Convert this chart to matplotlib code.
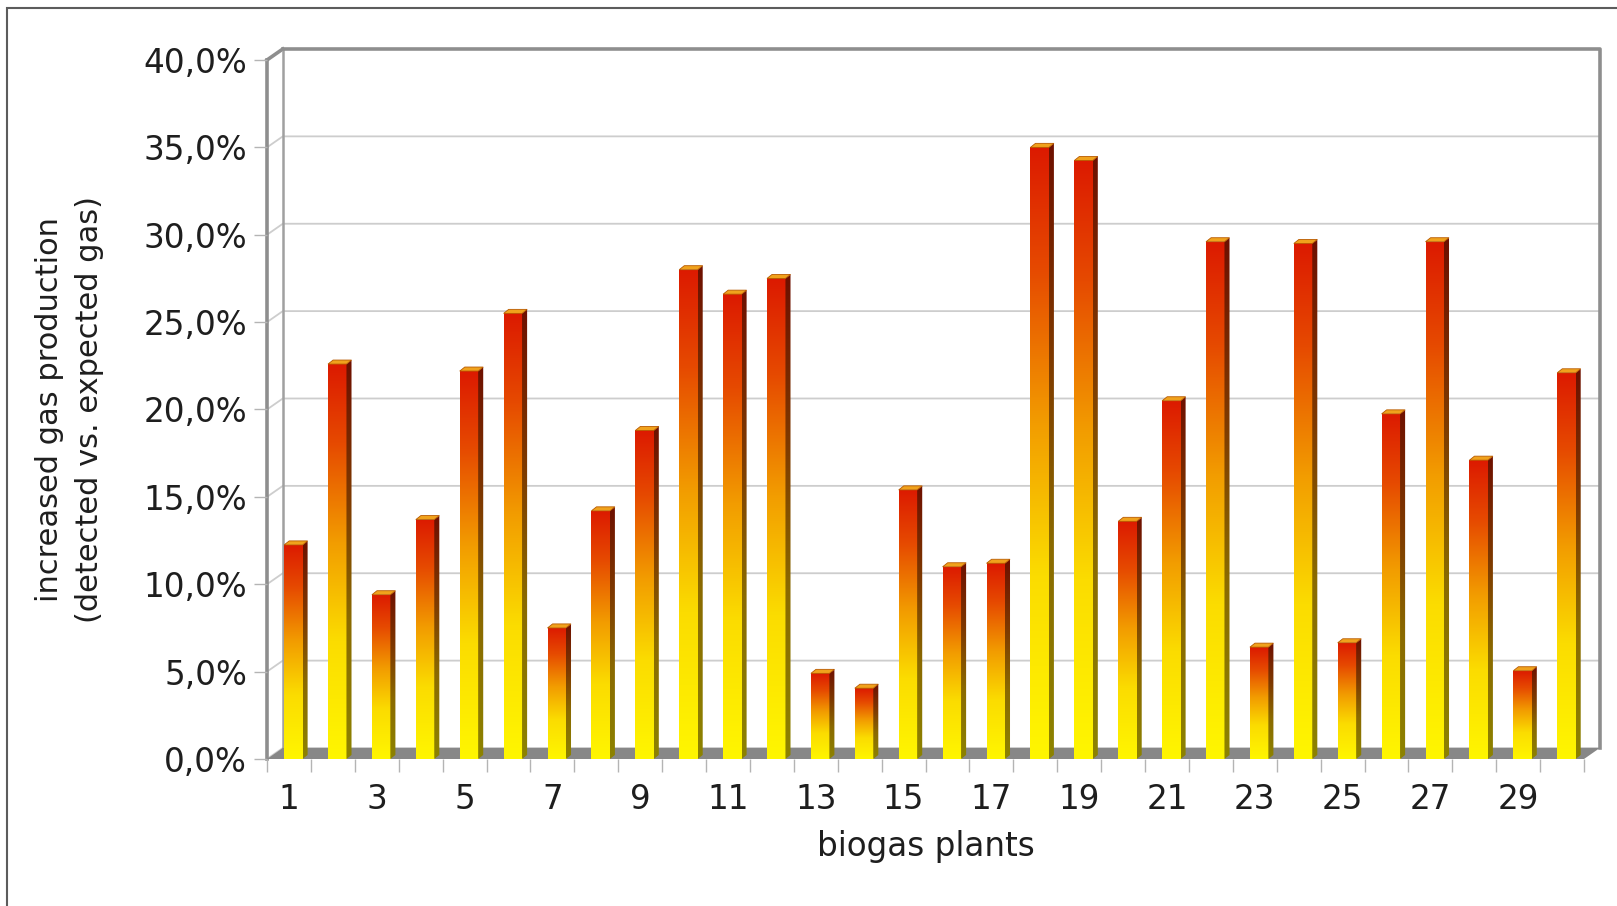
import numpy as np
import matplotlib
matplotlib.use("Agg")
import matplotlib.pyplot as plt
from matplotlib.colors import LinearSegmentedColormap
from matplotlib.patches import Polygon, Rectangle
from matplotlib.ticker import FuncFormatter

# data
plants = np.arange(1, 31)
increase = [12.25, 22.6, 9.4, 13.7, 22.2, 25.5, 7.5, 14.2, 18.8, 28.0,
            26.6, 27.5, 4.9, 4.05, 15.4, 11.0, 11.2, 35.0, 34.25, 13.6,
            20.5, 29.6, 6.4, 29.5, 6.65, 19.75, 29.6, 17.1, 5.05, 22.1]
y_ticks = [0, 5, 10, 15, 20, 25, 30, 35, 40]
x_label_plants = [p for p in plants if p % 2 == 1]

W, H, DPI = 1617, 906, 100
DX, DY = 0.36, 0.63          # depth of the back wall (data units)
BAR_OFF, BAR_W = 0.39, 0.42  # front face of a bar inside its slot
SIDE_DX, SIDE_DY = 0.115, 0.23
TXT = "#1e1e1e"
FS = 23.5

face_cmap = LinearSegmentedColormap.from_list(
    "face", [(0, "#fff600"), (0.3, "#fbdc00"), (0.55, "#f29c00"),
             (0.8, "#e64a00"), (1, "#dc1a00")])
side_cmap = LinearSegmentedColormap.from_list(
    "side", [(0, "#8d8300"), (0.35, "#8a6a00"), (0.65, "#7e3a00"),
             (1, "#6e1000")])

fig = plt.figure(figsize=(W / DPI, H / DPI), dpi=DPI)
ax = fig.add_axes([267 / W, 147 / H, 1317 / W, 699 / H])
for s in ax.spines.values():
    s.set_visible(False)
ax.patch.set_visible(False)

n = len(plants)
top = y_ticks[-1]

# walls and grid
for t in y_ticks[:-1]:
    ax.plot([0, DX, n + DX], [t, t + DY, t + DY], color="#cdcdcd", lw=1.3,
            zorder=1, clip_on=False)
wall = dict(color="#8e8e8e", lw=2.6, zorder=1, clip_on=False,
            solid_capstyle="projecting")
ax.plot([0, 0], [0, top], **wall)
ax.plot([0, DX], [top, top + DY], **wall)
ax.plot([DX, DX], [DY, top + DY], color="#a0a0a0", lw=1.8, zorder=1, clip_on=False)
ax.plot([DX, n + DX, n + DX], [top + DY, top + DY, DY], **wall)
ax.add_patch(Polygon([(0, 0), (n, 0), (n + DX, DY), (DX, DY)],
                     closed=True, fc="#878787", ec="none", zorder=2,
                     clip_on=False))

# bars with a vertical gradient
grad = np.linspace(0, 1, 256).reshape(-1, 1)
for i, v in enumerate(increase):
    x0 = i + BAR_OFF
    x1 = x0 + BAR_W
    im = ax.imshow(grad, cmap=face_cmap, extent=[x0, x1, 0, v],
                   origin="lower", aspect="auto", zorder=3,
                   interpolation="bilinear")
    im.set_clip_path(Rectangle((x0, 0), BAR_W, v, transform=ax.transData))
    side = [(x1, 0), (x1 + SIDE_DX, SIDE_DY), (x1 + SIDE_DX, v + SIDE_DY), (x1, v)]
    im2 = ax.imshow(grad, cmap=side_cmap,
                    extent=[x1, x1 + SIDE_DX, 0, v + SIDE_DY],
                    origin="lower", aspect="auto", zorder=3,
                    interpolation="bilinear")
    im2.set_clip_path(Polygon(side, closed=True, transform=ax.transData))
    ax.add_patch(Polygon([(x0, v), (x1, v), (x1 + SIDE_DX, v + SIDE_DY),
                          (x0 + SIDE_DX, v + SIDE_DY)], closed=True,
                         fc="#f0a21c", ec="#b85a00", lw=0.6, zorder=4))

ax.set_xlim(0, n)
ax.set_ylim(0, top)

ax.set_yticks(y_ticks)
ax.yaxis.set_major_formatter(
    FuncFormatter(lambda v, _: f"{v:.1f}%".replace(".", ",")))
ax.tick_params(axis="y", length=9.4, width=1, color="#b4b4b4", pad=5,
               labelsize=FS, labelcolor=TXT)

ax.set_xticks(np.arange(0, n + 1))
ax.set_xticklabels([])
ax.set_xticks([p - 0.5 for p in x_label_plants], minor=True)
ax.set_xticklabels([str(p) for p in x_label_plants], minor=True)
ax.tick_params(axis="x", which="major", length=9.4, width=1, color="#b4b4b4")
ax.tick_params(axis="x", which="minor", length=0, pad=17,
               labelsize=FS, labelcolor=TXT)

ax.set_xlabel("biogas plants", fontsize=FS, color=TXT)
ax.xaxis.label.set_va("center")
ax.xaxis.set_label_coords(0.5, -0.125)
ax.set_ylabel("increased gas production\n(detected vs. expected gas)",
              fontsize=22, color=TXT, linespacing=1.5)
ax.yaxis.label.set_va("center")
ax.yaxis.set_label_coords(-0.150, 0.50)

# outer frame, cut off at right and bottom
fig.add_artist(Rectangle((7 / W, -0.1), 1.2, 1 - 8 / H + 0.1,
                         transform=fig.transFigure, fill=False,
                         ec="#5c5c5c", lw=1.5))

fig.savefig("out.png", dpi=DPI)
